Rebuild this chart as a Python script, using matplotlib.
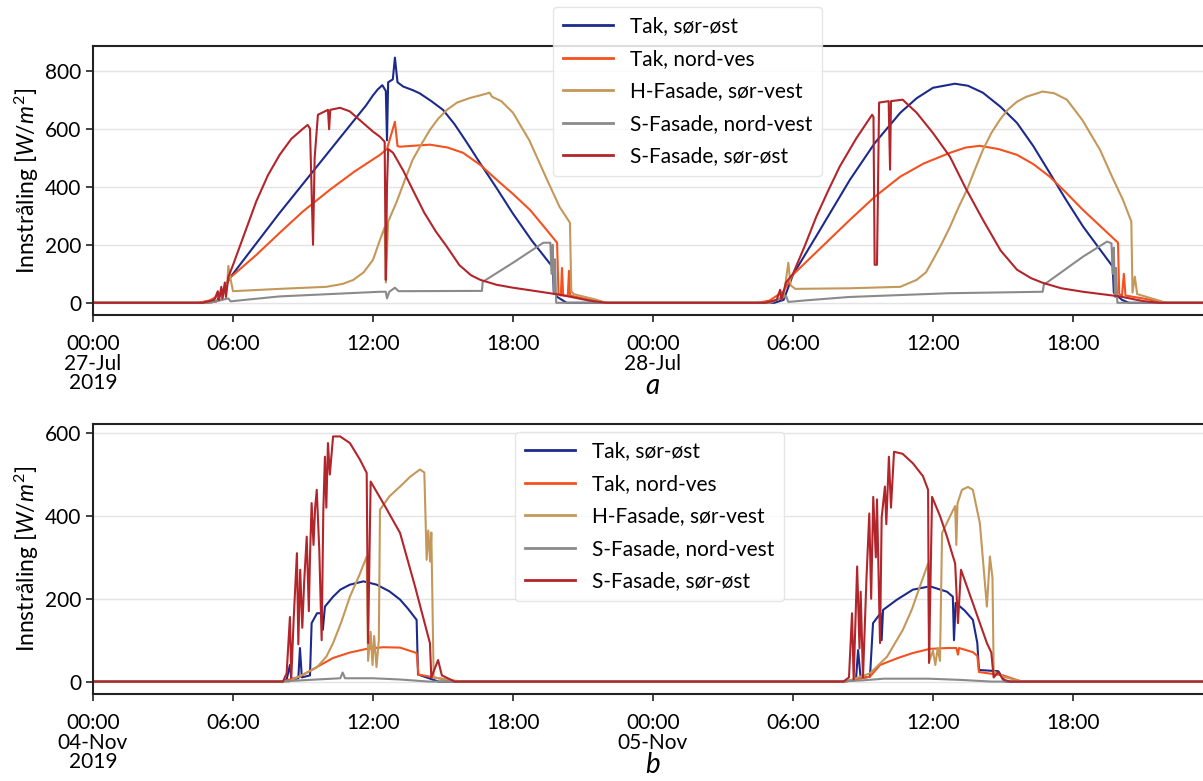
#!/usr/bin/env python3
"""
Innstråling på tak og fasader, to sommerdager (a) og to høstdager (b).
Kurvene er lest av figuren som (timer fra start, W/m2)-punkter.
"""

import matplotlib
matplotlib.use('Agg')
import matplotlib.pyplot as plt


LABELS = ['Tak, sør-øst', 'Tak, nord-ves', 'H-Fasade, sør-vest',
          'S-Fasade, nord-vest', 'S-Fasade, sør-øst']
COLORS = ['#1c2a8c', '#f4511e', '#c4985a', '#8a8a8a', '#b2252b']

TICK_HOURS = [0, 6, 12, 18, 24, 30, 36, 42]
JUL_TICKLABELS = ['00:00\n27-Jul\n2019', '06:00', '12:00', '18:00',
                  '00:00\n28-Jul', '06:00', '12:00', '18:00']
NOV_TICKLABELS = ['00:00\n04-Nov\n2019', '06:00', '12:00', '18:00',
                  '00:00\n05-Nov', '06:00', '12:00', '18:00']

# --- 27-28 Jul 2019 ------------------------------------------------------
JUL_TAK_SO = [
    (0, 0), (4.8, 0), (5.3, 5), (5.87, 86), (7.0, 205), (8.0, 310),
    (9.0, 410), (10.0, 510), (11.0, 610), (11.7, 680), (12.0, 715),
    (12.2, 735), (12.4, 750), (12.55, 730), (12.6, 560), (12.65, 760),
    (12.85, 770), (12.94, 845), (13.05, 760), (13.3, 745), (13.7, 733),
    (14.0, 722), (14.5, 695), (15.0, 665), (15.5, 615), (16.0, 555),
    (16.6, 480), (17.3, 395), (18.0, 307), (18.8, 215), (19.7, 123),
    (19.75, 40), (19.9, 20), (20.3, 0),
    (29.2, 0), (29.6, 10), (30.0, 97), (31.0, 230), (32.44, 424),
    (33.5, 550), (34.6, 655), (35.3, 705), (36.0, 741), (36.94, 755),
    (37.5, 748), (38.14, 724), (38.9, 675), (39.6, 620), (40.3, 540),
    (41.0, 448), (41.7, 355), (42.43, 263), (43.1, 190), (43.7, 125),
    (43.75, 35), (44.1, 10), (44.4, 0), (48, 0),
]
JUL_TAK_NV = [
    (0, 0), (4.5, 0), (5.0, 8), (5.5, 30), (5.87, 86), (7.0, 165),
    (8.0, 241), (9.0, 315), (10.16, 390), (11.2, 452), (12.3, 510),
    (12.6, 530), (12.94, 624), (13.05, 540), (13.16, 538), (13.7, 541),
    (14.44, 545), (15.2, 535), (15.86, 517), (16.6, 475), (17.3, 424),
    (18.0, 375), (18.73, 320), (19.3, 265), (19.89, 207), (19.95, 30),
    (20.05, 25), (20.1, 120), (20.15, 25), (20.35, 25), (20.4, 110),
    (20.45, 25), (21.0, 15), (22.0, 0),
    (28.5, 0), (29.0, 8), (29.6, 40), (30.0, 97), (31.2, 190),
    (32.44, 286), (33.5, 365), (34.6, 435), (35.6, 480), (36.73, 517),
    (37.4, 535), (38.0, 541), (38.8, 530), (39.6, 510), (40.3, 478),
    (41.0, 435), (41.7, 380), (42.43, 320), (43.2, 262), (43.93, 207),
    (43.98, 30), (44.1, 25), (44.18, 100), (44.25, 25), (45.0, 15),
    (46.0, 0), (48, 0),
]
JUL_H_SV = [
    (0, 0), (5.0, 0), (5.5, 10), (5.75, 60), (5.8, 127), (5.9, 80),
    (6.0, 40), (8.0, 48), (10.0, 55), (10.7, 65), (11.16, 79), (11.6, 105),
    (12.0, 148), (12.3, 217), (12.5, 260), (12.55, 70), (12.65, 280),
    (13.0, 345), (13.35, 420), (13.7, 493), (14.1, 550), (14.44, 596),
    (14.8, 635), (15.17, 665), (15.6, 690), (16.16, 706), (16.6, 715),
    (17.0, 724), (17.1, 710), (17.5, 695), (18.0, 655), (18.7, 560),
    (19.46, 424), (20.0, 330), (20.44, 276), (20.5, 40), (20.6, 30),
    (21.5, 12), (22.0, 0),
    (29.0, 0), (29.6, 20), (29.8, 138), (29.9, 60), (30.1, 48), (32.4, 50),
    (34.6, 55), (35.3, 79), (35.7, 105), (36.0, 148), (36.35, 200),
    (36.73, 262), (37.1, 330), (37.46, 390), (37.8, 460), (38.14, 527),
    (38.5, 585), (38.87, 631), (39.2, 665), (39.6, 693), (40.0, 710),
    (40.7, 728), (41.2, 722), (41.74, 700), (42.4, 630), (43.16, 527),
    (43.7, 430), (44.14, 355), (44.5, 280), (44.55, 35), (44.65, 90),
    (44.75, 30), (45.5, 12), (46.0, 0), (48, 0),
]
JUL_S_NV = [
    (0, 0), (5.0, 0), (5.8, 15), (5.9, 5), (6.5, 10), (8.0, 22),
    (12.3, 38), (12.55, 38), (12.6, 15), (12.7, 38), (12.94, 52),
    (13.1, 40), (16.67, 41), (16.7, 72), (18.0, 138), (19.3, 207),
    (19.6, 207), (19.65, 100), (19.7, 200), (19.75, 30), (19.8, 150),
    (19.85, 0),
    (29.0, 0), (29.7, 24), (29.8, 3), (30.5, 8), (32.4, 20), (36.7, 33),
    (40.7, 38), (40.75, 62), (42.43, 159), (43.46, 211), (43.65, 205),
    (43.7, 100), (43.75, 190), (43.8, 20), (43.85, 120), (43.9, 0), (48, 0),
]
JUL_S_SO = [
    (0, 0), (4.7, 0), (5.2, 10), (5.35, 40), (5.4, 10), (5.5, 55),
    (5.55, 15), (5.65, 70), (5.7, 20), (5.8, 90), (5.87, 103), (6.0, 130),
    (6.5, 240), (7.0, 350), (7.5, 440), (8.0, 510), (8.5, 565), (9.0, 600),
    (9.2, 613), (9.3, 600), (9.43, 200), (9.5, 500), (9.64, 648),
    (10.07, 665), (10.12, 598), (10.17, 665), (10.59, 672), (11.0, 660),
    (11.5, 625), (12.0, 590), (12.3, 572), (12.5, 555), (12.55, 79),
    (12.6, 400), (12.65, 530), (12.86, 517), (13.3, 455), (13.7, 390),
    (14.2, 310), (14.7, 245), (15.17, 193), (15.7, 130), (16.2, 95),
    (16.6, 79), (17.3, 62), (18.0, 52), (20.0, 28), (21.3, 7), (22.0, 0),
    (28.8, 0), (29.3, 10), (29.45, 45), (29.5, 10), (29.7, 70), (30.0, 100),
    (30.5, 195), (31.0, 297), (31.5, 385), (32.0, 469), (32.7, 565),
    (33.39, 648), (33.45, 640), (33.5, 131), (33.6, 131), (33.69, 690),
    (34.1, 695), (34.16, 459), (34.2, 695), (34.7, 700), (35.3, 655),
    (36.0, 585), (36.73, 503), (37.4, 395), (38.14, 286), (38.9, 180),
    (39.6, 114), (40.2, 85), (40.7, 69), (41.5, 50), (42.43, 38),
    (44.0, 22), (45.0, 6), (45.7, 0), (48, 0),
]

# --- 04-05 Nov 2019 ------------------------------------------------------
NOV_TAK_SO = [
    (0, 0), (8.1, 0), (8.3, 5), (8.44, 40), (8.5, 5), (8.8, 8), (8.87, 81),
    (8.95, 10), (9.3, 15), (9.37, 141), (9.6, 165), (9.8, 165), (9.85, 125),
    (9.94, 181), (10.29, 205), (10.6, 222), (11.01, 234), (11.59, 242),
    (12.16, 234), (12.7, 218), (13.16, 198), (13.5, 176), (13.87, 149),
    (13.93, 17), (14.4, 8), (14.8, 0),
    (32.2, 0), (32.7, 5), (32.79, 76), (32.9, 8), (33.3, 12), (33.43, 141),
    (33.75, 165), (33.8, 100), (33.86, 173), (34.46, 198), (35.14, 222),
    (35.87, 230), (36.6, 217), (36.85, 205), (36.9, 100), (36.97, 190),
    (37.35, 172), (37.71, 149), (37.9, 93), (37.97, 28), (38.8, 25),
    (39.1, 0), (48, 0),
]
NOV_TAK_NV = [
    (0, 0), (8.1, 0), (8.87, 12), (9.59, 35), (10.29, 57), (11.0, 70),
    (11.73, 79), (12.44, 83), (13.16, 82), (13.87, 69), (13.95, 17),
    (14.8, 8), (15.6, 0),
    (32.2, 0), (33.3, 12), (33.73, 40), (34.5, 57), (35.14, 69),
    (35.87, 79), (36.6, 81), (37.0, 81), (37.07, 65), (37.12, 81),
    (37.71, 71), (37.9, 62), (37.97, 23), (39.0, 15), (39.8, 0), (48, 0),
]
NOV_H_SV = [
    (0, 0), (8.4, 0), (9.59, 34), (10.0, 60), (10.29, 93), (10.65, 145),
    (11.01, 205), (11.4, 255), (11.73, 302), (11.79, 50), (11.9, 120),
    (11.98, 40), (12.05, 110), (12.15, 35), (12.25, 100), (12.3, 415),
    (12.7, 447), (13.16, 471), (13.6, 495), (14.01, 512), (14.2, 505),
    (14.3, 294), (14.37, 365), (14.45, 290), (14.5, 360), (14.6, 10),
    (15.2, 5), (15.8, 0),
    (32.3, 0), (33.3, 20), (34.03, 60), (34.71, 125), (35.1, 175),
    (35.44, 230), (35.79, 285), (35.85, 50), (36.0, 75), (36.1, 40),
    (36.2, 80), (36.3, 50), (36.39, 359), (36.73, 399), (36.95, 424),
    (37.0, 330), (37.05, 430), (37.24, 463), (37.5, 470), (37.71, 463),
    (38.01, 382), (38.31, 181), (38.44, 302), (38.55, 250), (38.6, 25),
    (39.0, 12), (39.8, 0), (48, 0),
]
NOV_S_NV = [
    (0, 0), (8.0, 0), (9.59, 5), (10.6, 8), (10.7, 22), (10.8, 8),
    (12.0, 8), (13.16, 5), (14.4, 0),
    (32.0, 0), (33.0, 3), (33.9, 7), (35.8, 7), (37.2, 4), (38.5, 0), (48, 0),
]
NOV_S_SO = [
    (0, 0), (8.14, 0), (8.3, 20), (8.44, 156), (8.5, 10), (8.6, 150),
    (8.74, 310), (8.8, 90), (8.88, 270), (8.97, 130), (9.05, 240),
    (9.16, 350), (9.25, 170), (9.3, 300), (9.37, 431), (9.45, 330),
    (9.52, 420), (9.59, 463), (9.7, 315), (9.8, 100), (9.87, 410),
    (9.94, 543), (10.0, 420), (10.07, 576), (10.15, 500), (10.29, 592),
    (10.59, 592), (11.01, 576), (11.44, 536), (11.73, 504), (11.79, 93),
    (11.9, 483), (12.5, 425), (13.16, 359), (13.8, 230), (14.44, 93),
    (14.5, 10), (14.79, 52), (14.95, 15), (15.5, 0),
    (32.16, 0), (32.4, 10), (32.53, 165), (32.6, 5), (32.75, 278),
    (32.85, 80), (32.9, 217), (33.0, 10), (33.15, 250), (33.27, 406),
    (33.35, 200), (33.44, 446), (33.55, 300), (33.6, 440), (33.73, 93),
    (33.8, 396), (33.94, 471), (34.0, 380), (34.11, 543), (34.2, 420),
    (34.33, 555), (34.7, 550), (35.14, 527), (35.57, 496), (35.79, 463),
    (35.83, 45), (35.96, 446), (36.3, 400), (36.6, 350), (36.95, 285),
    (37.07, 141), (37.2, 270), (37.71, 189), (38.31, 93), (38.5, 70),
    (38.6, 10), (38.8, 23), (39.0, 5), (39.3, 0), (48, 0),
]

JUL_SERIES = [JUL_TAK_SO, JUL_TAK_NV, JUL_H_SV, JUL_S_NV, JUL_S_SO]
NOV_SERIES = [NOV_TAK_SO, NOV_TAK_NV, NOV_H_SV, NOV_S_NV, NOV_S_SO]


def draw_panel(ax, series, ticklabels, yticks, ylim, letter, legend_anchor):
    for pts, label, color in zip(series, LABELS, COLORS):
        hours = [p[0] for p in pts]
        vals = [p[1] for p in pts]
        ax.plot(hours, vals, color=color, lw=1.5, label=label)

    ax.set_xlim(0, 48)
    ax.set_ylim(*ylim)
    ax.set_xticks(TICK_HOURS)
    ax.set_xticklabels(ticklabels)
    for lbl in ax.get_xticklabels():
        lbl.set_linespacing(0.95)
    ax.set_yticks(yticks)
    ax.tick_params(labelsize=15, length=5, width=1.2, color='#222222')
    ax.tick_params(axis='x', pad=9)
    ax.grid(True, axis='y', color='#e4e4e4', lw=1.0)
    ax.set_axisbelow(True)
    for sp in ax.spines.values():
        sp.set_color('#222222')
        sp.set_linewidth(1.5)

    ax.set_ylabel('Innstråling [$W/m^2$]', fontsize=16.5, labelpad=3)
    ax.set_xlabel(f'${letter}$', fontsize=20, labelpad=-14)

    leg = ax.legend(loc='upper left', bbox_to_anchor=legend_anchor,
                    borderaxespad=0, fontsize=15, handlelength=2.4,
                    handletextpad=0.85, labelspacing=0.6, borderpad=0.45,
                    framealpha=0.85, edgecolor='#e2e2e2', fancybox=True)
    leg.get_frame().set_linewidth(1.0)
    for h in leg.get_lines():
        h.set_linewidth(2.0)


def main():
    plt.rcParams['font.family'] = ['Lato', 'DejaVu Sans']
    plt.rcParams['mathtext.fontset'] = 'custom'
    plt.rcParams['mathtext.rm'] = 'Lato'
    plt.rcParams['mathtext.it'] = 'Lato:italic'

    fig = plt.figure(figsize=(12.03, 7.81), dpi=100)
    # right edge of both panels runs past the picture, as in the source
    ax_a = fig.add_axes([0.0773, 0.5967, 0.931, 0.3444])
    ax_b = fig.add_axes([0.0773, 0.1114, 0.931, 0.3457])

    draw_panel(ax_a, JUL_SERIES, JUL_TICKLABELS, [0, 200, 400, 600, 800],
               (-42, 885), 'a', (0.411, 1.145))
    draw_panel(ax_b, NOV_SERIES, NOV_TICKLABELS, [0, 200, 400, 600],
               (-30, 622), 'b', (0.377, 0.97))

    fig.savefig('out.png', dpi=100)


if __name__ == '__main__':
    main()
